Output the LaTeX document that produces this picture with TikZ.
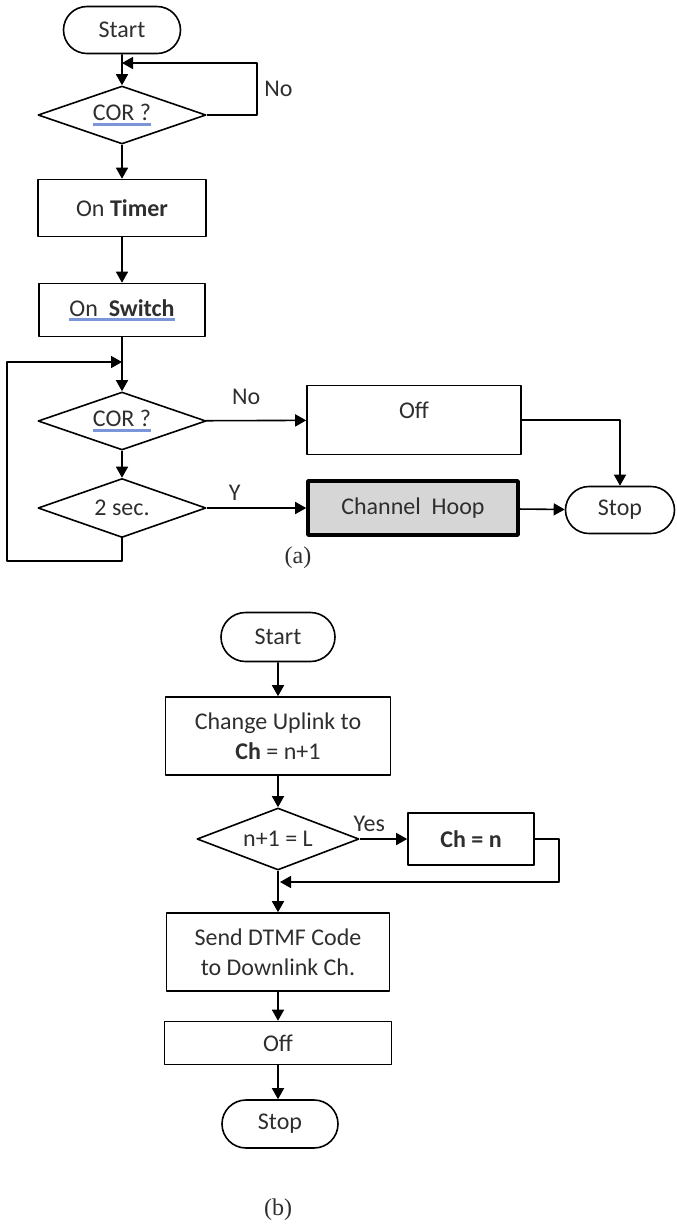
\documentclass[tikz,border=0pt]{standalone}
\usepackage{fontspec}
\setmainfont{Carlito}
\newfontfamily\capfont{Liberation Serif}
\usepackage{tikz}
\usetikzlibrary{arrows.meta,shapes.geometric,shapes.misc}
\definecolor{ink}{HTML}{2E2E2E}
\definecolor{squig}{HTML}{7A96D8}
\definecolor{hoopgray}{HTML}{D6D6D6}
\newcommand\spellline[1]{\leavevmode\setbox0\hbox{#1}\rlap{\textcolor{squig}{\rule[-2.4pt]{\wd0}{1.2pt}}}\box0}
\tikzset{
  every picture/.style={font=\fontsize{12}{15}\selectfont, line join=round, text=ink},
  procbox/.style={draw, rectangle, line width=0.8pt, inner sep=2pt},
  termbox/.style={draw, rounded rectangle, line width=0.8pt, inner sep=2pt},
  decbox/.style={draw, diamond, aspect=2.9, inner sep=0pt, line width=0.8pt},
  flow/.style={line width=0.8pt, -{Triangle[length=5.5pt,width=6pt]}},
}

\begin{document}
\begin{tikzpicture}[x=0.5pt,y=-0.5pt]
\useasboundingbox (0,0) rectangle (676,1228);
\node[termbox,minimum width=62.5pt,minimum height=23.5pt] (starta) at (122,30) {Start};
\node[decbox,minimum width=84pt,minimum height=29pt] (cora) at (122,115) {\spellline{COR ?}};
\node[procbox,minimum width=84pt,minimum height=28.5pt] (timer) at (122,208) {On \textbf{Timer}};
\node[procbox,minimum width=83pt,minimum height=26.5pt] (switch) at (122,310) {\spellline{On\ \ \textbf{Switch}}};
\node[decbox,minimum width=84pt,minimum height=29pt] (corb) at (122,421) {\spellline{COR ?}};
\node[decbox,minimum width=84pt,minimum height=29.5pt] (twosec) at (122,508) {2 sec.};
\node[procbox,minimum width=107pt,minimum height=34.5pt,text depth=10pt] (offa) at (414,420) {Off};
\node[procbox,line width=1.8pt,fill=hoopgray,minimum width=105pt,minimum height=27pt] (hoop) at (413,508) {Channel\ \ Hoop};
\node[termbox,minimum width=58.5pt,minimum height=23.5pt] (stopa) at (620,510) {Stop};
\node[font=\capfont\fontsize{12}{14}\selectfont] (capa) at (298,558) {(a)};
\coordinate (nob) at (257,63);
\coordinate (backa) at (7,561);
\coordinate (entera) at (122,362);
\draw[flow] (starta) -- (cora);
\draw[flow] (cora.east) -| node[pos=0.75,right]{No} (nob) -- (starta.south |- nob);
\draw[flow] (cora) -- (timer);
\draw[flow] (timer) -- (switch);
\draw[flow] (switch) -- (corb);
\draw[flow] (corb) -- (twosec);
\draw[flow] (twosec.south) |- (backa) |- (entera);
\draw[flow] (corb) -- node[pos=0.4,above=4pt]{No} (offa);
\draw[flow] (twosec) -- node[pos=0.28,above]{Y} (hoop);
\draw[flow] (offa.east) -| (stopa.north);
\draw[flow] (hoop) -- (stopa);

\node[termbox,minimum width=61pt,minimum height=24.5pt] (startb) at (278,637) {Start};
\node[procbox,align=center,minimum width=112.5pt,minimum height=39pt] (change) at (278,736) {Change Uplink to\\\textbf{Ch} = n+1};
\node[decbox,minimum width=81pt,minimum height=31pt] (lastch) at (278,839) {n+1 = L};
\node[procbox,minimum width=63pt,minimum height=26pt] (chn) at (471,839) {\textbf{Ch = n}};
\node[procbox,align=center,minimum width=111.5pt,minimum height=39pt] (dtmf) at (278,952) {Send DTMF Code\\to Downlink Ch.};
\node[procbox,minimum width=113.5pt,minimum height=21.5pt] (offb) at (278,1043) {Off};
\node[termbox,minimum width=62pt,minimum height=24pt] (stopb) at (280,1124) {Stop};
\node[font=\capfont\fontsize{12}{14}\selectfont] (capb) at (278,1210) {(b)};
\coordinate (mergeb) at (280,882);
\draw[flow] (startb) -- (change);
\draw[flow] (change) -- (lastch);
\draw[flow] (lastch) -- node[pos=0.2,above]{Yes} (chn);
\draw[flow] (chn.east) -- ++(24,0) |- (mergeb);
\draw[flow] (lastch) -- (dtmf);
\draw[flow] (dtmf) -- (offb);
\draw[flow] (offb.south) -- (stopb.north -| offb.south);
\end{tikzpicture}
\end{document}
